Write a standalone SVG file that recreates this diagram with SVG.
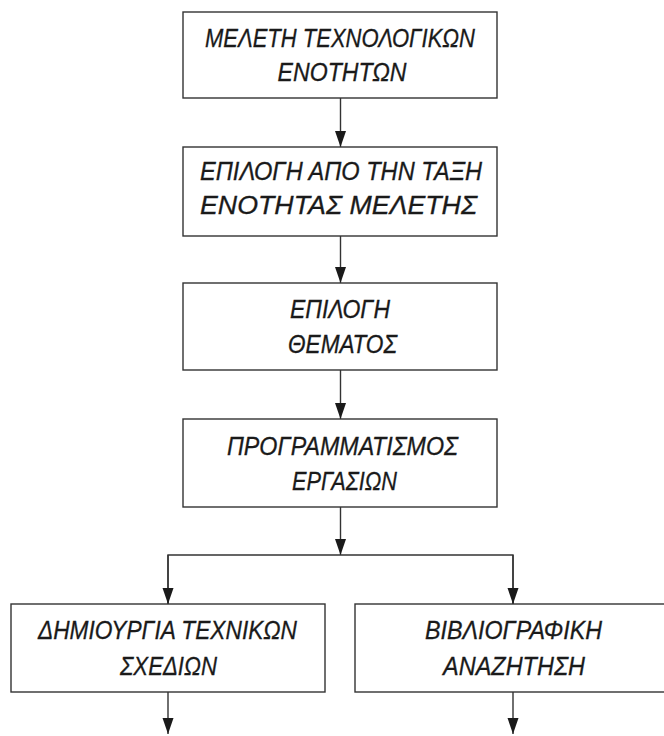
<svg xmlns="http://www.w3.org/2000/svg" width="664" height="736" viewBox="0 0 664 736">
<style>
.box{fill:#fff;stroke:#333;stroke-width:1.4}
.lbl{font-family:"Liberation Sans",Arial,sans-serif;font-style:italic;font-size:26px;fill:#1a1a1a;stroke:#1a1a1a;stroke-width:0.3;text-anchor:middle}
.con{fill:none;stroke:#333;stroke-width:1.4}
</style>
<defs>
<marker id="arrd" markerUnits="userSpaceOnUse" markerWidth="12" markerHeight="16" viewBox="0 0 12 16" refX="6" refY="16" orient="0">
<path d="M0.5,0 L11.5,0 L6,16 Z" fill="#1a1a1a"/>
</marker>
</defs>
<g id="connectors">
<line class="con" x1="340.5" y1="98" x2="340.5" y2="147" marker-end="url(#arrd)"/>
<line class="con" x1="340.5" y1="236" x2="340.5" y2="283" marker-end="url(#arrd)"/>
<line class="con" x1="340.5" y1="370" x2="340.5" y2="419" marker-end="url(#arrd)"/>
<line class="con" x1="340.5" y1="507" x2="340.5" y2="555" marker-end="url(#arrd)"/>
<polyline class="con" points="168,604 168,555 513,555 513,604"/>
<line class="con" x1="168" y1="555" x2="168" y2="604" marker-end="url(#arrd)"/>
<line class="con" x1="513" y1="555" x2="513" y2="604" marker-end="url(#arrd)"/>
<line class="con" x1="168" y1="692" x2="168" y2="734" marker-end="url(#arrd)"/>
<line class="con" x1="513" y1="692" x2="513" y2="734" marker-end="url(#arrd)"/>
</g>
<g id="n1">
<rect class="box" x="183" y="12" width="314" height="86"/>
<text class="lbl" x="340" y="47" textLength="270" lengthAdjust="spacingAndGlyphs">ΜΕΛΕΤΗ ΤΕΧΝΟΛΟΓΙΚΩΝ</text>
<text class="lbl" x="342" y="81" textLength="129" lengthAdjust="spacingAndGlyphs">ΕΝΟΤΗΤΩΝ</text>
</g>
<g id="n2">
<rect class="box" x="183" y="147" width="314" height="89"/>
<text class="lbl" x="341" y="180" textLength="282" lengthAdjust="spacingAndGlyphs">ΕΠΙΛΟΓΗ ΑΠΟ ΤΗΝ ΤΑΞΗ</text>
<text class="lbl" x="338.5" y="214" textLength="277" lengthAdjust="spacingAndGlyphs">ΕΝΟΤΗΤΑΣ ΜΕΛΕΤΗΣ</text>
</g>
<g id="n3">
<rect class="box" x="183" y="283" width="314" height="87"/>
<text class="lbl" x="340" y="318" textLength="100" lengthAdjust="spacingAndGlyphs">ΕΠΙΛΟΓΗ</text>
<text class="lbl" x="342.5" y="353" textLength="109" lengthAdjust="spacingAndGlyphs">ΘΕΜΑΤΟΣ</text>
</g>
<g id="n4">
<rect class="box" x="183" y="419" width="314" height="88"/>
<text class="lbl" x="342.5" y="455" textLength="231" lengthAdjust="spacingAndGlyphs">ΠΡΟΓΡΑΜΜΑΤΙΣΜΟΣ</text>
<text class="lbl" x="344.5" y="490" textLength="105" lengthAdjust="spacingAndGlyphs">ΕΡΓΑΣΙΩΝ</text>
</g>
<g id="n5">
<rect class="box" x="11" y="604" width="314" height="88"/>
<text class="lbl" x="167.5" y="639" textLength="259" lengthAdjust="spacingAndGlyphs">ΔΗΜΙΟΥΡΓΙΑ ΤΕΧΝΙΚΩΝ</text>
<text class="lbl" x="168.5" y="675" textLength="97" lengthAdjust="spacingAndGlyphs">ΣΧΕΔΙΩΝ</text>
</g>
<g id="n6">
<rect class="box" x="355" y="604" width="330" height="88"/>
<text class="lbl" x="513.5" y="639" textLength="177" lengthAdjust="spacingAndGlyphs">ΒΙΒΛΙΟΓΡΑΦΙΚΗ</text>
<text class="lbl" x="514" y="675" textLength="142" lengthAdjust="spacingAndGlyphs">ΑΝΑΖΗΤΗΣΗ</text>
</g>
</svg>
